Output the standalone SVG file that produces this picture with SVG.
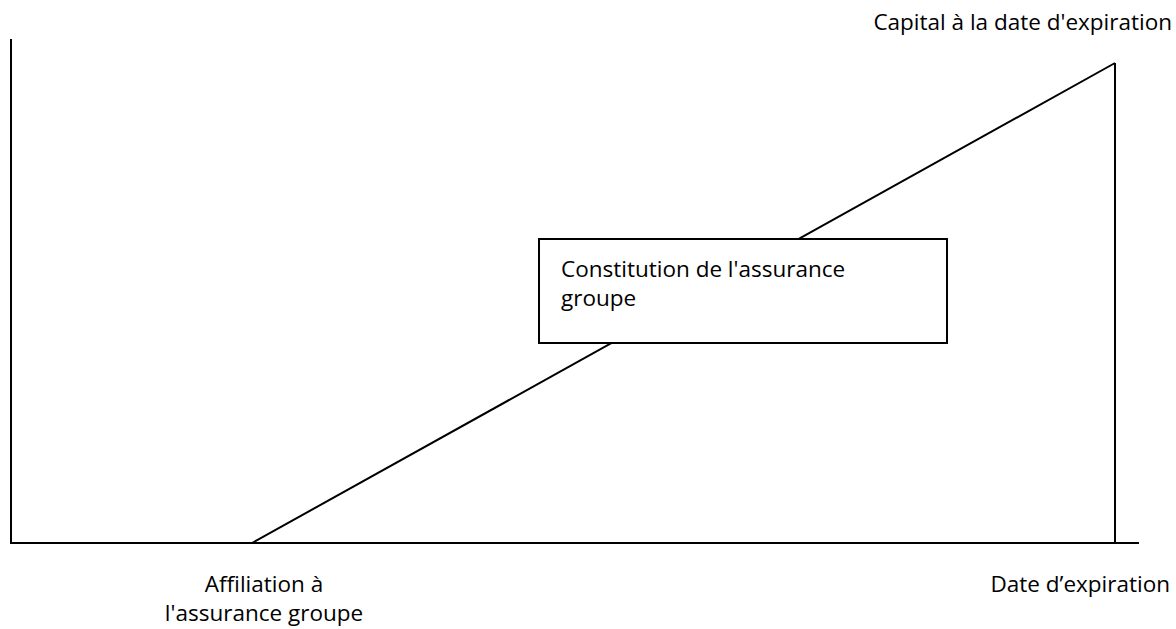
<svg xmlns="http://www.w3.org/2000/svg" width="1176" height="629" viewBox="0 0 1176 629">
<style>
.ln{stroke:#000;stroke-width:2;fill:none}
.t{font-family:"Open Sans","Liberation Sans",sans-serif;font-size:22.5px;fill:#000}
</style>
<rect width="1176" height="629" fill="#fff"/>
<g id="connectors">
<line class="ln" x1="11" y1="39" x2="11" y2="543"/>
<line class="ln" x1="10" y1="543" x2="1139" y2="543"/>
<line class="ln" x1="1115" y1="63" x2="1115" y2="543"/>
<line class="ln" x1="252" y1="543" x2="1115" y2="63"/>
</g>
<g id="box">
<rect x="539" y="239" width="408" height="104" fill="#fff" stroke="#000" stroke-width="2"/>
<text class="t" x="561" y="277">Constitution de l'assurance</text>
<text class="t" x="561" y="306">groupe</text>
</g>
<g id="label-capital">
<text class="t" x="1172" y="30" text-anchor="end">Capital à la date d'expiration</text>
</g>
<g id="label-affiliation">
<text class="t" x="264" y="592" text-anchor="middle">Affiliation à</text>
<text class="t" x="264" y="621" text-anchor="middle">l'assurance groupe</text>
</g>
<g id="label-date">
<text class="t" x="1170" y="592" text-anchor="end">Date d’expiration</text>
</g>
</svg>
